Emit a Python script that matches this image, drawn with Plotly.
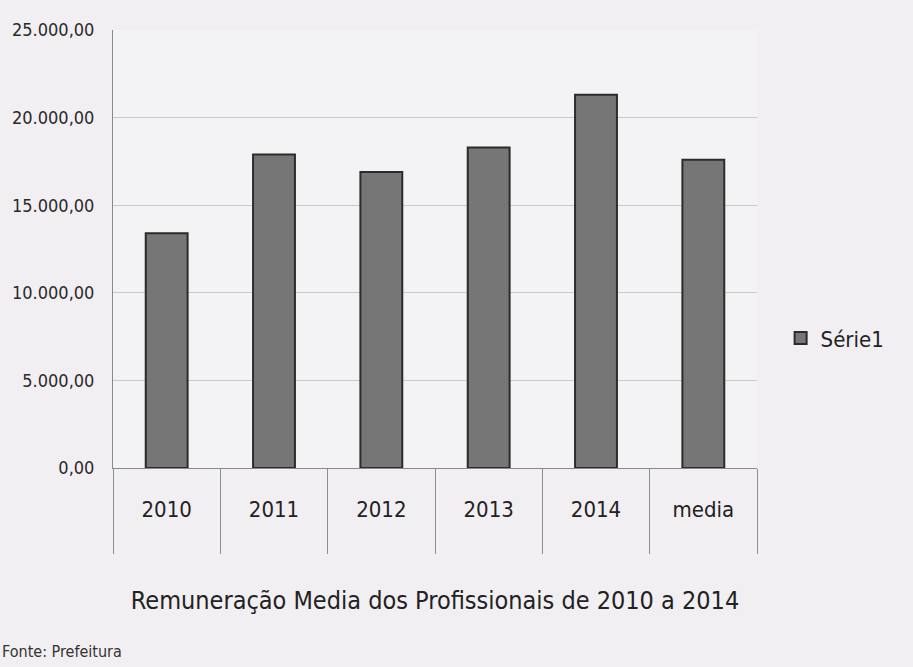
import plotly.graph_objects as go

# Remuneração média anual (R$) por ano e média do período
categorias = ["2010", "2011", "2012", "2013", "2014", "media"]
valores = [13400, 17900, 16900, 18300, 21300, 17600]
serie_nome = "Série1"
titulo_eixo = "Remuneração Media dos Profissionais de 2010 a 2014"
fonte_texto = "Fonte: Prefeitura"

FONT = "Liberation Sans Narrow, DejaVu Sans Condensed, Arial Narrow, sans-serif"
posicoes = list(range(len(categorias)))

W, H = 913, 667
M = dict(l=113, r=156, t=30, b=199)
plot_w = W - M["l"] - M["r"]
plot_h = H - M["t"] - M["b"]

fig = go.Figure()
fig.add_trace(go.Bar(
    x=posicoes,
    y=valores,
    name=serie_nome,
    width=0.39,
    marker=dict(color="#767676", line=dict(color="#2b2b2b", width=2)),
    showlegend=True,
))

fig.update_layout(
    width=W,
    height=H,
    margin=M,
    paper_bgcolor="#f1eff2",
    plot_bgcolor="#f3f2f4",
    separators=",.",
    font=dict(family=FONT, color="#262626"),
    xaxis=dict(
        range=[-0.5, len(categorias) - 0.5],
        tickmode="array",
        tickvals=posicoes,
        ticktext=categorias,
        ticks="",
        ticklabelstandoff=22,
        tickfont=dict(size=22, color="#222222"),
        showgrid=False,
        zeroline=False,
        showline=True,
        linecolor="#8a8a8a",
        linewidth=1,
        minor=dict(tickmode="linear", tick0=-0.5, dtick=1, ticks="outside",
                   ticklen=85, tickcolor="#8e8e8e", tickwidth=1, showgrid=False),
        title=dict(text=titulo_eixo, standoff=70,
                   font=dict(size=25, color="#222222")),
        fixedrange=True,
    ),
    yaxis=dict(
        range=[0, 25000],
        tickvals=[0, 5000, 10000, 15000, 20000, 25000],
        tickformat=",.2f",
        tickfont=dict(size=18, color="#2a2a2a"),
        showgrid=True,
        gridcolor="#c9c9c9",
        gridwidth=1,
        zeroline=False,
        showline=True,
        linecolor="#8a8a8a",
        linewidth=1,
        ticks="",
        ticklabelstandoff=14,
        fixedrange=True,
    ),
    legend=dict(
        xref="container", yref="container",
        x=0.855, y=0.493, xanchor="left", yanchor="middle",
        bgcolor="rgba(0,0,0,0)",
        font=dict(size=22, color="#222222"),
        itemwidth=30,
    ),
    annotations=[dict(
        text=fonte_texto, xref="paper", yref="paper",
        x=-M["l"] / plot_w, y=-(M["b"] - 16) / plot_h,
        xanchor="left", yanchor="middle",
        showarrow=False, font=dict(size=16, color="#333333"),
    )],
)

fig.write_html("out.html")
